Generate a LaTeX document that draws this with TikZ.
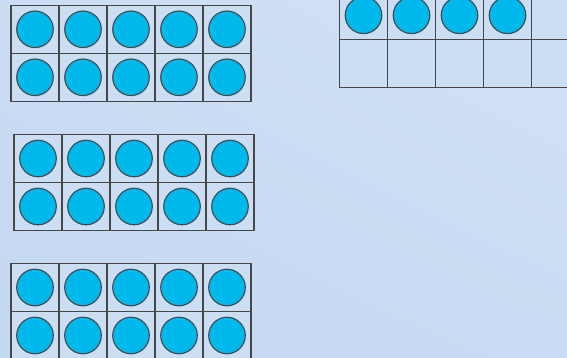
\documentclass[tikz,border=0pt]{standalone}
\usetikzlibrary{shadings}
\begin{document}
\begin{tikzpicture}[x=1pt,y=-1pt,
  gridline/.style={draw=black!72,line width=1.3pt,line cap=rect},
  counter/.style={fill=cyanc,draw=black!72,line width=1.1pt},
  cellfill/.style={fill=cellc}]
\definecolor{bgA}{RGB}{196,216,240}
\definecolor{bgB}{RGB}{210,226,247}
\definecolor{cellc}{RGB}{204,222,244}
\definecolor{cyanc}{RGB}{0,185,236}
\useasboundingbox (0,0) rectangle (567,358);
\shade[lower left=bgA,lower right=bgA!60!bgB,upper left=bgA!50!bgB,upper right=bgB] (0,0) rectangle (567,358);
\begin{scope}
\clip (0,0) rectangle (567,358);
% full ten frames: origin x, y
\foreach \ox/\oy in {11/5.3, 14/134.5, 11/263.5}{
  \fill[cellfill] (\ox,\oy) rectangle ++(240,96);
  \foreach \c in {0,...,4}
    \foreach \r in {0,1}
      \draw[counter] (\ox+24+48*\c,\oy+24+48*\r) circle (18.3);
  \foreach \c in {0,...,5}
    \draw[gridline] (\ox+48*\c,\oy) -- (\ox+48*\c,\oy+96);
  \foreach \r in {0,1,2}
    \draw[gridline] (\ox,\oy+48*\r) -- (\ox+240,\oy+48*\r);
}
% partial frame top right
\def\px{339.5}\def\py{-8.7}
\fill[cellfill] (\px,\py) rectangle ++(240,96);
\foreach \c in {0,...,3}
  \draw[counter] (\px+24+48*\c,\py+24) circle (18.3);
\foreach \c in {0,...,5}
  \draw[gridline] (\px+48*\c,\py) -- (\px+48*\c,\py+96);
\foreach \r in {0,1,2}
  \draw[gridline] (\px,\py+48*\r) -- (\px+240,\py+48*\r);
\end{scope}
\end{tikzpicture}
\end{document}
